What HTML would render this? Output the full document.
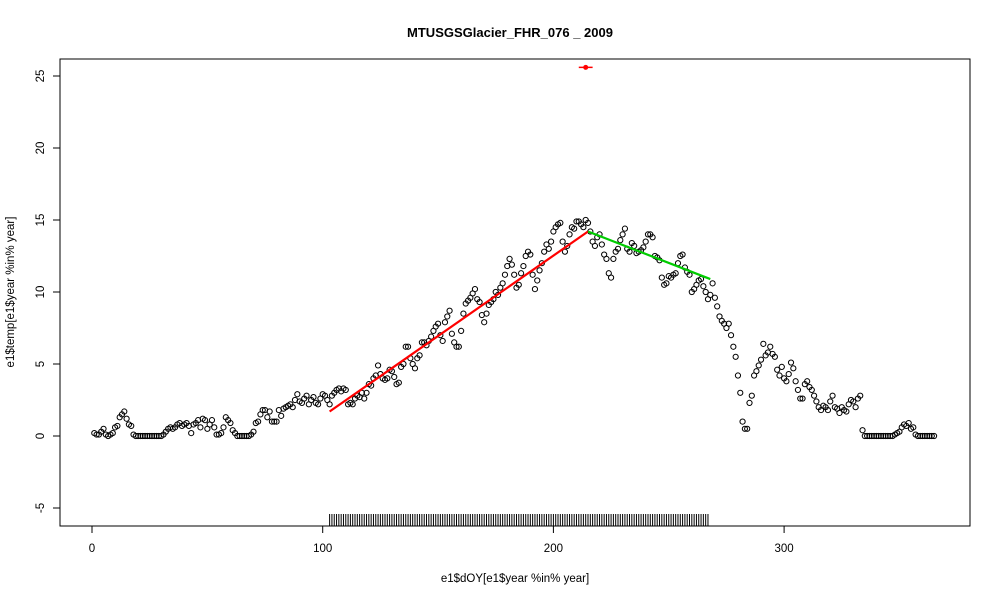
<!DOCTYPE html>
<html><head><meta charset="utf-8"><style>
body{margin:0;background:#fff;}
svg text{font-family:"Liberation Sans",Arial,sans-serif;}
</style></head><body>
<svg id="chart" width="1000" height="600" xmlns="http://www.w3.org/2000/svg">
<rect x="0" y="0" width="1000" height="600" fill="#fff"/>
<text x="510" y="37" text-anchor="middle" font-size="13" font-weight="bold">MTUSGSGlacier_FHR_076 _ 2009</text>
<text x="515" y="582" text-anchor="middle" font-size="11.5">e1$dOY[e1$year %in% year]</text>
<text transform="translate(14,292) rotate(-90)" text-anchor="middle" font-size="11.5">e1$temp[e1$year %in% year]</text>
<rect x="60" y="59" width="910" height="467" fill="none" stroke="#000" stroke-width="1"/>
<g id="axes"></g>
<g id="rug"></g>
<g id="points"></g>
<g id="fits"></g>
</svg>
<script>
const xTicks=[0,100,200,300];
const yTicks=[-5,0,5,10,15,20,25];
const temps=[
0.2,0.1,0.1,0.3,0.5,0.1,0,0.1,0.2,0.6,
0.7,1.3,1.5,1.7,1.2,0.8,0.7,0.1,0,0,
0,0,0,0,0,0,0,0,0,0,
0.1,0.3,0.5,0.6,0.5,0.6,0.8,0.9,0.7,0.8,
0.9,0.7,0.2,0.8,0.9,1.1,0.6,1.2,1.1,0.5,
0.8,1.1,0.6,0.1,0.1,0.2,0.6,1.3,1.1,0.9,
0.4,0.2,0,0,0,0,0,0,0.1,0.3,
0.9,1.0,1.5,1.8,1.8,1.3,1.7,1.0,1.0,1.0,
1.8,1.4,1.9,2.0,2.1,2.2,2.0,2.5,2.9,2.4,
2.3,2.6,2.8,2.2,2.5,2.7,2.3,2.2,2.6,2.9,
2.8,2.5,2.2,2.8,3.0,3.2,3.3,3.1,3.3,3.2,
2.2,2.3,2.2,2.6,2.8,2.7,3.0,2.6,3.0,3.6,
3.5,4.0,4.2,4.9,4.3,4.0,3.9,4.0,4.6,4.5,
4.1,3.6,3.7,4.8,5.0,6.2,6.2,5.4,5.0,4.7,
5.4,5.6,6.5,6.5,6.3,6.6,6.9,7.3,7.6,7.8,
7.0,6.6,7.9,8.3,8.7,7.1,6.5,6.2,6.2,7.3,
8.5,9.2,9.4,9.6,9.9,10.2,9.5,9.3,8.4,7.9,
8.5,9.1,9.3,9.5,10.0,9.8,10.3,10.6,11.2,11.8,
12.3,11.9,11.2,10.3,10.5,11.3,11.8,12.5,12.8,12.6,
11.2,10.2,10.8,11.5,12.0,12.8,13.3,13.0,13.5,14.2,
14.5,14.7,14.8,13.5,12.8,13.2,14.0,14.5,14.4,14.9,
14.9,14.7,14.5,15.0,14.8,14.2,13.5,13.2,13.8,14.0,
13.3,12.6,12.3,11.3,11.0,12.3,12.8,13.0,13.6,14.0,
14.4,13.0,12.8,13.4,13.2,12.7,12.8,12.9,13.1,13.5,
14.0,14.0,13.8,12.5,12.4,12.2,11.0,10.5,10.6,11.1,
11.0,11.2,11.3,12.0,12.5,12.6,11.7,11.4,11.2,10.0,
10.2,10.5,10.8,10.9,10.4,10.0,9.5,9.8,10.6,9.6,
9.0,8.3,8.0,7.8,7.5,7.8,7.0,6.2,5.5,4.2,
3.0,1.0,0.5,0.5,2.3,2.8,4.2,4.5,4.9,5.3,
6.4,5.6,5.8,6.2,5.7,5.5,4.6,4.2,4.8,4.0,
3.8,4.3,5.1,4.7,3.8,3.2,2.6,2.6,3.6,3.8,
3.4,3.2,2.8,2.4,2.0,1.8,2.1,2.0,1.8,2.4,
2.8,2.0,1.9,1.6,2.0,1.8,1.7,2.2,2.5,2.4,
2.0,2.6,2.8,0.4,0,0,0,0,0,0,
0,0,0,0,0,0,0,0.1,0.2,0.3,
0.6,0.8,0.7,0.9,0.5,0.6,0.1,0,0,0,
0,0,0,0,0];
const rugStart=103, rugEnd=267;
const redFit=[[103,1.7],[215,14.2]];
const greenFit=[[215,14.2],[268,10.9]];
const peakPoint=[214,25.6];
const peakRange=[211,217];

const NS="http://www.w3.org/2000/svg";
function sx(d){return 92+d*2.307;}
function sy(v){return 436-v*14.4;}
function mk(tag,attrs,parent){const e=document.createElementNS(NS,tag);for(const k in attrs)e.setAttribute(k,attrs[k]);parent.appendChild(e);return e;}
const axes=document.getElementById('axes');
mk('line',{x1:sx(xTicks[0]),x2:sx(xTicks[xTicks.length-1]),y1:526,y2:526,stroke:'#000'},axes);
xTicks.forEach(t=>{
  const l=mk('line',{x1:sx(t),x2:sx(t),y1:526,y2:533,stroke:'#000'},axes);
  
  
  const tx=mk('text',{x:sx(t),y:552,'text-anchor':'middle','font-size':'11.5',fill:'#000'},axes);
  tx.textContent=t;
  
  
});
mk('line',{x1:60,x2:60,y1:sy(yTicks[0]),y2:sy(yTicks[yTicks.length-1]),stroke:'#000'},axes);
yTicks.forEach(t=>{
  const l=mk('line',{x1:53,x2:60,y1:sy(t),y2:sy(t),stroke:'#000'},axes);
  
  
  const tx=mk('text',{transform:`translate(44,${sy(t)}) rotate(-90)`,'text-anchor':'middle','font-size':'11.5',fill:'#000'},axes);
  tx.textContent=t;
  
  
});
const rug=document.getElementById('rug');
for(let d=rugStart;d<=rugEnd;d++){
  const l=mk('line',{x1:sx(d),x2:sx(d),y1:514,y2:526,stroke:'#000','stroke-width':1},rug);
  
  
}
const pts=document.getElementById('points');
temps.forEach((v,i)=>{
  const c=mk('circle',{cx:sx(i+1),cy:sy(v),r:2.6,fill:'none',stroke:'#000','stroke-width':1},pts);
  
  
});
const fits=document.getElementById('fits');
const r=mk('line',{x1:sx(redFit[0][0]),y1:sy(redFit[0][1]),x2:sx(redFit[1][0]),y2:sy(redFit[1][1]),stroke:'#f00','stroke-width':2.2},fits);


const g=mk('line',{x1:sx(greenFit[0][0]),y1:sy(greenFit[0][1]),x2:sx(greenFit[1][0]),y2:sy(greenFit[1][1]),stroke:'#0c0','stroke-width':2.2},fits);


const pr=mk('line',{x1:sx(peakRange[0]),x2:sx(peakRange[1]),y1:sy(peakPoint[1]),y2:sy(peakPoint[1]),stroke:'#f00','stroke-width':1.5},fits);


const pp=mk('circle',{cx:sx(peakPoint[0]),cy:sy(peakPoint[1]),r:2.5,fill:'#f00'},fits);


</script>
</body></html>
